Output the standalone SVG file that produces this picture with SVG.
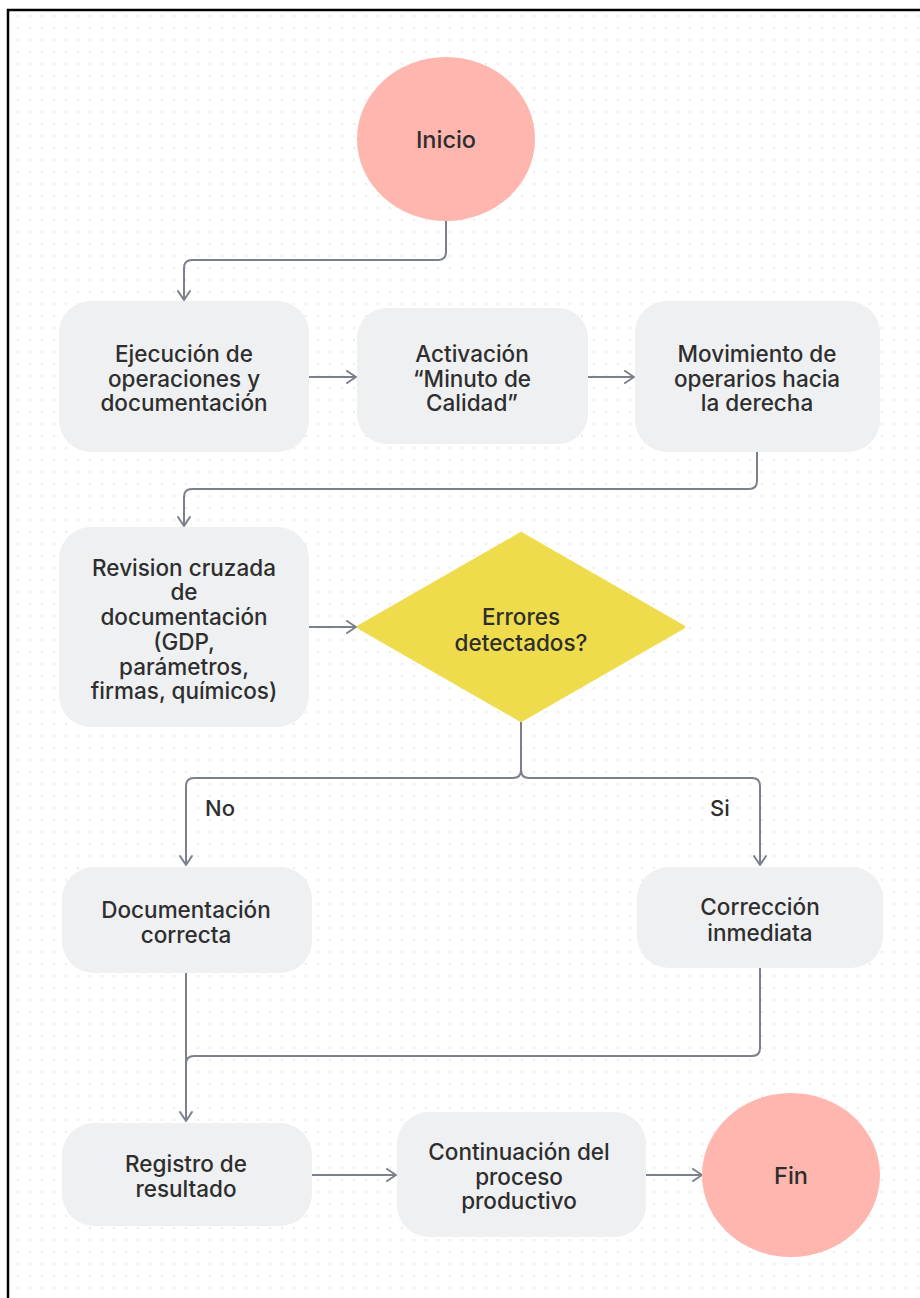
<svg xmlns="http://www.w3.org/2000/svg" width="920" height="1298" viewBox="0 0 920 1298">
<defs>
<pattern id="dots" x="12" y="10" width="12" height="12" patternUnits="userSpaceOnUse">
<rect x="5.2" y="5.2" width="1.6" height="1.6" fill="#e2e2e2"/>
</pattern>
<marker id="arr" viewBox="0 0 12 14" refX="11" refY="7" markerWidth="12" markerHeight="14" markerUnits="userSpaceOnUse" orient="auto">
<path d="M2,1 L11,7 L2,13" fill="none" stroke="#7b808a" stroke-width="2" stroke-linecap="round" stroke-linejoin="round"/>
</marker>
<style>
.box{fill:#eff0f2}
.term{fill:#ffb6ae}
.dec{fill:#efdc4d;stroke:#efdc4d;stroke-width:4;stroke-linejoin:round}
.t{font-family:Inter,"Liberation Sans",sans-serif;font-size:22.5px;font-weight:500;fill:#2e2e2e;text-anchor:middle;dominant-baseline:central}
.big{font-size:23.5px}
.lbl{font-family:Inter,"Liberation Sans",sans-serif;font-size:22px;font-weight:500;fill:#2e2e2e;dominant-baseline:central}
.c{fill:none;stroke:#7b808a;stroke-width:2}
</style>
</defs>
<rect x="0" y="0" width="920" height="1298" fill="#ffffff"/>
<rect x="9" y="11" width="920" height="1300" fill="url(#dots)"/>
<rect x="8" y="10" width="930" height="1310" fill="none" stroke="#000000" stroke-width="2.5"/>

<g id="connectors">
<path class="c" d="M446,221 V252 Q446,260 438,260 H192 Q184,260 184,268 V300" marker-end="url(#arr)"/>
<path class="c" d="M309,377 H356" marker-end="url(#arr)"/>
<path class="c" d="M588,377 H634" marker-end="url(#arr)"/>
<path class="c" d="M757,452 V481 Q757,489 749,489 H192 Q184,489 184,497 V526" marker-end="url(#arr)"/>
<path class="c" d="M309,627 H356" marker-end="url(#arr)"/>
<path class="c" d="M521,722 V770 Q521,778 513,778 H194 Q186,778 186,786 V865" marker-end="url(#arr)"/>
<path class="c" d="M521,770 Q521,778 529,778 H752 Q760,778 760,786 V865" marker-end="url(#arr)"/>
<path class="c" d="M186,973 V1121" marker-end="url(#arr)"/>
<path class="c" d="M760,968 V1048 Q760,1056 752,1056 H194 Q186,1056 186,1064"/>
<path class="c" d="M312,1175 H396" marker-end="url(#arr)"/>
<path class="c" d="M646,1175 H702" marker-end="url(#arr)"/>
<text class="lbl" x="205" y="808">No</text>
<text class="lbl" x="710" y="808">Si</text>
</g>

<g id="inicio">
<ellipse class="term" cx="446" cy="139" rx="89" ry="82"/>
<text class="t big" x="446" y="139">Inicio</text>
</g>

<g id="ejecucion">
<rect class="box" x="59" y="301" width="250" height="151" rx="32"/>
<text class="t" x="184"><tspan x="184" y="353">Ejecución de</tspan><tspan x="184" y="377.5">operaciones y</tspan><tspan x="184" y="402">documentación</tspan></text>
</g>

<g id="activacion">
<rect class="box" x="357" y="308" width="231" height="136" rx="30"/>
<text class="t" x="472"><tspan x="472" y="353">Activación</tspan><tspan x="472" y="377.5">“Minuto de</tspan><tspan x="472" y="402">Calidad”</tspan></text>
</g>

<g id="movimiento">
<rect class="box" x="635" y="301" width="245" height="151" rx="32"/>
<text class="t" x="757"><tspan x="757" y="353">Movimiento de</tspan><tspan x="757" y="377.5">operarios hacia</tspan><tspan x="757" y="402">la derecha</tspan></text>
</g>

<g id="revision">
<rect class="box" x="59" y="527" width="250" height="200" rx="32"/>
<text class="t" x="184"><tspan x="184" y="566.5">Revision cruzada</tspan><tspan x="184" y="591.3">de</tspan><tspan x="184" y="616">documentación</tspan><tspan x="184" y="640.8">(GDP,</tspan><tspan x="184" y="665.6">parámetros,</tspan><tspan x="184" y="690.4">firmas, químicos)</tspan></text>
</g>

<g id="decision">
<polygon class="dec" points="521,534 683,627 521,720 359,627"/>
<text class="t" x="521"><tspan x="521" y="615.5">Errores</tspan><tspan x="521" y="641.5">detectados?</tspan></text>
</g>

<g id="doc-correcta">
<rect class="box" x="62" y="867" width="250" height="106" rx="32"/>
<text class="t" x="186"><tspan x="186" y="909">Documentación</tspan><tspan x="186" y="934">correcta</tspan></text>
</g>

<g id="correccion">
<rect class="box" x="637" y="867" width="246" height="101" rx="32"/>
<text class="t" x="760"><tspan x="760" y="906">Corrección</tspan><tspan x="760" y="931.5">inmediata</tspan></text>
</g>

<g id="registro">
<rect class="box" x="62" y="1123" width="250" height="103" rx="32"/>
<text class="t" x="186"><tspan x="186" y="1163">Registro de</tspan><tspan x="186" y="1188">resultado</tspan></text>
</g>

<g id="continuacion">
<rect class="box" x="397" y="1112" width="249" height="125" rx="32"/>
<text class="t" x="519"><tspan x="519" y="1151">Continuación del</tspan><tspan x="519" y="1175.5">proceso</tspan><tspan x="519" y="1200">productivo</tspan></text>
</g>

<g id="fin">
<ellipse class="term" cx="791" cy="1175" rx="89" ry="82"/>
<text class="t big" x="791" y="1175">Fin</text>
</g>
</svg>
